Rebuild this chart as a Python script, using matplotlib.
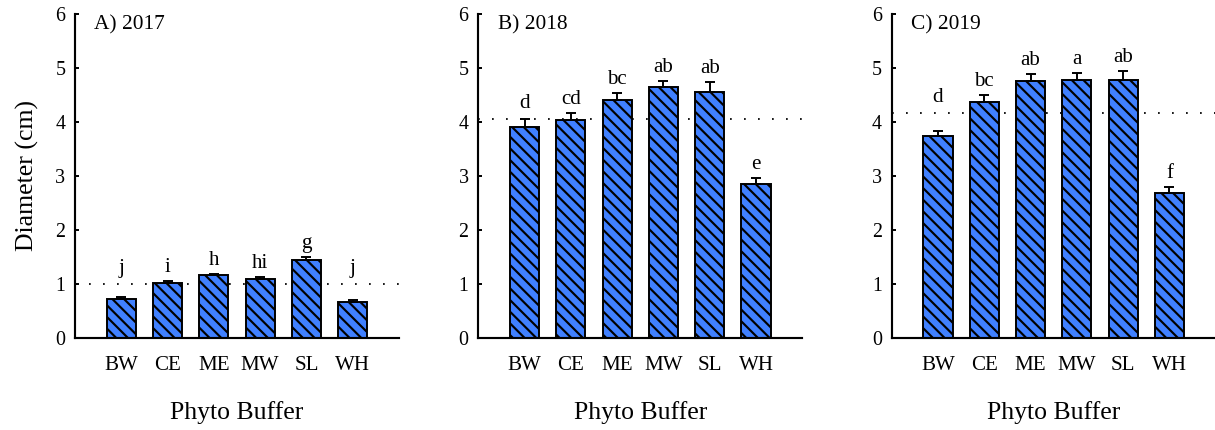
import matplotlib
matplotlib.use("Agg")
import matplotlib.pyplot as plt
import numpy as np

categories = ['BW', 'CE', 'ME', 'MW', 'SL', 'WH']

means_2017 = [0.71, 1.02, 1.155, 1.09, 1.445, 0.665]
err_2017 = [0.045, 0.035, 0.03, 0.04, 0.045, 0.035]
letters_2017 = ['j', 'i', 'h', 'hi', 'g', 'j']
overall_2017 = 1.0

means_2018 = [3.91, 4.03, 4.41, 4.64, 4.56, 2.84]
err_2018 = [0.14, 0.13, 0.13, 0.12, 0.18, 0.12]
letters_2018 = ['d', 'cd', 'bc', 'ab', 'ab', 'e']
overall_2018 = 4.06

means_2019 = [3.73, 4.37, 4.75, 4.78, 4.77, 2.685]
err_2019 = [0.11, 0.12, 0.13, 0.13, 0.17, 0.10]
letters_2019 = ['d', 'bc', 'ab', 'a', 'ab', 'f']
overall_2019 = 4.17

titles = ['A) 2017', 'B) 2018', 'C) 2019']
yticks = [0, 1, 2, 3, 4, 5, 6]

plt.rcParams['font.family'] = ['Liberation Serif', 'DejaVu Serif']
plt.rcParams['hatch.linewidth'] = 2.2
plt.rcParams['hatch.color'] = 'black'

DPI = 70
fig = plt.figure(figsize=(1215 / DPI, 430 / DPI), dpi=DPI)

bottom = 1 - 337.7 / 430
height = (337.7 - 14) / 430
lefts = [75 / 1215, 478.3 / 1215, 891.7 / 1215]
width = 324 / 1215

panels = [
    (means_2017, err_2017, letters_2017, overall_2017),
    (means_2018, err_2018, letters_2018, overall_2018),
    (means_2019, err_2019, letters_2019, overall_2019),
]

bar_color = '#4080ff'
for i, (means, errs, letters, overall) in enumerate(panels):
    ax = fig.add_axes([lefts[i], bottom, width, height])
    x = np.arange(len(categories))
    ax.axhline(overall, color='black', linestyle=(0, (1, 7)), lw=1.8, zorder=1)
    ax.bar(x, means, width=0.63, color=bar_color, edgecolor='black',
           linewidth=2.0, hatch='\\\\', zorder=2)
    ax.errorbar(x, means, yerr=[np.zeros(len(errs)), errs], fmt='none',
                ecolor='black', elinewidth=2.0, capsize=5, capthick=2.0, zorder=3)
    for xi, m, e, lab in zip(x, means, errs, letters):
        cap = m + e
        y = cap + 0.17
        if abs(cap - overall) < 0.35:
            y = max(y, overall + 0.2)
        ax.text(xi, y, lab, ha='center', va='baseline', fontsize=21.6)
    ax.set_xlim(-1, 6)
    ax.set_ylim(0, 6)
    ax.set_yticks(yticks)
    ax.set_xticks(x)
    ax.set_xticklabels(categories)
    for s in ['top', 'right']:
        ax.spines[s].set_visible(False)
    for s in ['left', 'bottom']:
        ax.spines[s].set_linewidth(2.2)
    ax.tick_params(axis='y', direction='in', length=4, width=2, labelsize=20.6, pad=10)
    ax.tick_params(axis='x', length=0, labelsize=21.6, pad=19)
    ax.set_xlabel('Phyto Buffer', fontsize=26.5, labelpad=27)
    if i == 0:
        ax.set_ylabel('Diameter (cm)', fontsize=26.5, labelpad=17)
    ax.text(0.06, 0.965, titles[i], transform=ax.transAxes, ha='left', va='center',
            fontsize=22)

fig.savefig('out.png', dpi=DPI)
